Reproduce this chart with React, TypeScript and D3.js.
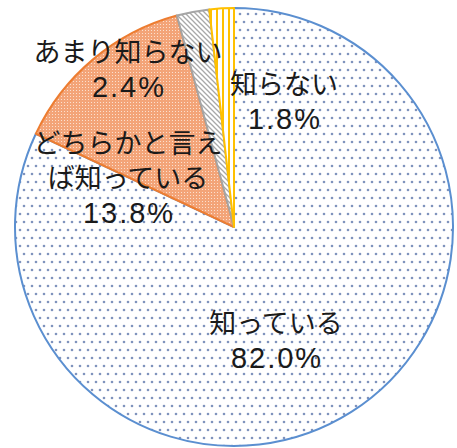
import React from "react";
import * as d3 from "d3";

const categories = ["知っている", "どちらかと言えば知っている", "あまり知らない", "知らない"];
const values = [82.0, 13.8, 2.4, 1.8];
const labelLines = [
  ["知っている"],
  ["どちらかと言え", "ば知っている"],
  ["あまり知らない"],
  ["知らない"],
];
const pctLabels = ["82.0%", "13.8%", "2.4%", "1.8%"];

const W = 457;
const H = 448;
const cx = 234;
const cy = 227;
const R = 219;

const fills = ["url(#pDots)", "url(#pOrange)", "url(#pHatch)", "url(#pYellow)"];
const strokes = ["#5b8fd0", "#ed7d31", "#a5a5a5", "#ffc000"];
// label anchor positions (center x, first-line baseline)
const labelPos: [number, number][] = [
  [276, 333],
  [128, 153],
  [128, 62],
  [284, 94],
];

export default function App() {
  const pie = d3
    .pie<number>()
    .sort(null)
    .value((d) => d)
    .startAngle(0)
    .endAngle(2 * Math.PI);
  const arcs = pie(values);
  const arc = d3.arc<d3.PieArcDatum<number>>().innerRadius(0).outerRadius(R);

  return (
    <svg
      width={W}
      height={H}
      style={{ position: "absolute", left: 0, top: 0 }}
      fontFamily="'Liberation Sans', 'Noto Sans CJK JP', sans-serif"
    >
      <defs>
        <pattern id="pDots" width="8" height="16" patternUnits="userSpaceOnUse">
          <rect width="8" height="16" fill="#ffffff" />
          <circle cx="2" cy="3" r="1.3" fill="#7f93bd" />
          <circle cx="6" cy="11" r="1.3" fill="#7f93bd" />
        </pattern>
        <pattern id="pOrange" width="3" height="3" patternUnits="userSpaceOnUse">
          <rect width="3" height="3" fill="#f3a478" />
          <rect x="1" y="1" width="1" height="1" fill="#fbe0cf" />
        </pattern>
        <pattern id="pHatch" width="5" height="5" patternUnits="userSpaceOnUse">
          <rect width="5" height="5" fill="#ffffff" />
          <path d="M-1,-1 L6,6 M-1,4 L1,6 M4,-1 L6,1" stroke="#a8a8a8" strokeWidth="1.3" />
        </pattern>
        <pattern id="pYellow" width="6" height="6" patternUnits="userSpaceOnUse">
          <rect width="6" height="6" fill="#ffffff" />
          <rect x="0" y="0" width="2" height="6" fill="#ffc000" />
        </pattern>
      </defs>
      <rect width={W} height={H} fill="#ffffff" />
      <g transform={`translate(${cx},${cy})`}>
        {arcs.map((a, i) => (
          <path
            key={categories[i]}
            d={arc(a) || ""}
            fill={fills[i]}
            stroke={strokes[i]}
            strokeWidth={2}
            strokeLinejoin="round"
          />
        ))}
      </g>
      {labelLines.map((lines, i) => (
        <g key={categories[i]} fill="#1a1a1a" textAnchor="middle">
          {lines.map((l, j) => (
            <text key={j} x={labelPos[i][0]} y={labelPos[i][1] + j * 35} fontSize={27}>
              {l}
            </text>
          ))}
          <text
            x={labelPos[i][0] + 1}
            y={labelPos[i][1] + lines.length * 35}
            fontSize={29}
            letterSpacing={2}
          >
            {pctLabels[i]}
          </text>
        </g>
      ))}
    </svg>
  );
}
